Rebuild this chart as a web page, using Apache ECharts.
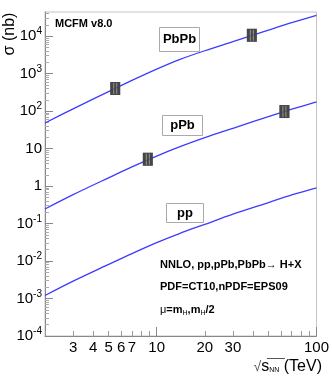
<!DOCTYPE html>
<html>
<head>
<meta charset="utf-8">
<script src="https://cdn.jsdelivr.net/npm/echarts@6/dist/echarts.min.js"></script>
<style>
  html, body { margin: 0; padding: 0; background: #fff; }
  #chart { width: 332px; height: 382px; }
</style>
</head>
<body>
<div id="chart"></div>
<script>
// sqrt(s_NN) in TeV and cross sections in nb
var energies = [2, 3, 5, 7, 10, 14, 20, 30, 50, 70, 100]
var ppXs = [1.2e-3, 2.9e-3, 8.1e-3, 0.0158, 0.031, 0.055, 0.095, 0.178, 0.363, 0.58, 0.9]
var pPbXs = [0.245, 0.59, 1.66, 3.24, 6.3, 11.2, 19.5, 34.7, 71, 112, 176]
var PbPbXs = [48, 115, 331, 660, 1320, 2400, 4070, 7080, 14450, 22900, 35900]

// data points (boxes)
var pointE = [5.5, 39.4, 8.8, 63]
var pointXs = [400, 10500, 5.2, 97]

var xLabels = [3, 4, 5, 6, 7, 10, 20, 30, 100]
var xMajor = [10, 100]
var yLabels = [1e-4, 1e-3, 1e-2, 1e-1, 1, 10, 100, 1e3, 1e4]

var font = 'Liberation Sans'
var blue = '#3c3cff'

function pairs(xs, ys) {
  return xs.map(function(x, i) { return [x, ys[i]] })
}

var xMinor = []
;[1, 10].forEach(function(d) {
  for (var k = 2; k <= 9; k++) xMinor.push(k * d)
})
var yMinor = []
for (var e = -4; e <= 4; e++) {
  for (var k = 2; k <= 9; k++) yMinor.push(k * Math.pow(10, e))
}

function yFmt(v) {
  var p = Math.round(Math.log10(v))
  if (p === 0) return '1'
  if (p === 1) return '10'
  return '{b|10}{s|' + p + '}'
}

var chart = echarts.init(document.getElementById('chart'))

var curve = { type: 'line', showSymbol: false, smooth: 0.3, lineStyle: { color: blue, width: 1.3 } }
var boxText = { fontFamily: font, fontWeight: 'bold', fontSize: 13, fill: '#000' }

chart.setOption({
  animation: false,
  grid: { left: 45, right: 10, top: 12, bottom: 46, show: true, borderColor: '#c4c4c4', borderWidth: 1 },
  xAxis: [{
    type: 'log', min: 2, max: 100,
    axisLine: { show: true, lineStyle: { color: '#888' } },
    axisTick: { inside: true, length: 9, customValues: xMajor, lineStyle: { color: '#888' } },
    axisLabel: { customValues: xLabels, fontFamily: font, fontSize: 15, color: '#000', margin: 4 },
    splitLine: { show: false }
  }, {
    type: 'log', min: 2, max: 100, position: 'bottom',
    axisLine: { show: false },
    axisTick: { inside: true, length: 5, customValues: xMinor, lineStyle: { color: '#999' } },
    axisLabel: { show: false },
    splitLine: { show: false }
  }],
  yAxis: [{
    type: 'log', min: 1e-4, max: 44000, position: 'left',
    axisLine: { show: true, lineStyle: { color: '#888' } },
    axisTick: { inside: true, length: 8, customValues: yLabels, lineStyle: { color: '#888' } },
    axisLabel: {
      customValues: yLabels, formatter: yFmt, fontFamily: font, fontSize: 15, color: '#000', margin: 3,
      rich: {
        b: { fontFamily: font, fontSize: 15, color: '#000' },
        s: { fontFamily: font, fontSize: 10, color: '#000', padding: [0, 0, 9, 0] }
      }
    },
    splitLine: { show: false }
  }, {
    type: 'log', min: 1e-4, max: 44000, position: 'left',
    axisLine: { show: false },
    axisTick: { inside: true, length: 4, customValues: yMinor, lineStyle: { color: '#aaa' } },
    axisLabel: { show: false },
    splitLine: { show: false }
  }],
  series: [
    Object.assign({ name: 'pp', data: pairs(energies, ppXs) }, curve),
    Object.assign({ name: 'pPb', data: pairs(energies, pPbXs) }, curve),
    Object.assign({ name: 'PbPb', data: pairs(energies, PbPbXs) }, curve),
    {
      name: 'points-bg', type: 'scatter', data: pairs(pointE, pointXs), z: 3,
      symbol: 'rect', symbolSize: [10, 13], itemStyle: { color: '#7a7a7a' }
    },
    {
      name: 'points', type: 'scatter', data: pairs(pointE, pointXs), z: 4,
      symbol: 'path://M0,0H10V13H0Z M3,1V12H4V1Z M6,1V12H7V1Z',
      symbolSize: [10, 13], symbolKeepAspect: false, itemStyle: { color: '#333' }
    }
  ],
  graphic: [
    { type: 'text', left: 55, top: 18, style: { text: 'MCFM v8.0', fontFamily: font, fontWeight: 'bold', fontSize: 11, fill: '#000' } },
    { type: 'rect', shape: { x: 159.5, y: 27.5, width: 40, height: 24 }, style: { fill: '#fff', stroke: '#aaa', lineWidth: 1 }, z: 10 },
    { type: 'text', x: 179.5, y: 39.5, style: Object.assign({ text: 'PbPb', align: 'center', verticalAlign: 'middle' }, boxText), z: 11 },
    { type: 'rect', shape: { x: 162.5, y: 115.5, width: 40, height: 20 }, style: { fill: '#fff', stroke: '#aaa', lineWidth: 1 }, z: 10 },
    { type: 'text', x: 182.5, y: 125.5, style: Object.assign({ text: 'pPb', align: 'center', verticalAlign: 'middle' }, boxText), z: 11 },
    { type: 'rect', shape: { x: 166.5, y: 203.5, width: 37, height: 19 }, style: { fill: '#fff', stroke: '#aaa', lineWidth: 1 }, z: 10 },
    { type: 'text', x: 185, y: 213, style: Object.assign({ text: 'pp', align: 'center', verticalAlign: 'middle' }, boxText), z: 11 },
    { type: 'text', x: 160, y: 265, style: { text: 'NNLO, pp,pPb,PbPb\u2192 H+X', fontFamily: font, fontWeight: 'bold', fontSize: 11, fill: '#000', verticalAlign: 'middle' } },
    { type: 'text', x: 160, y: 287, style: { text: 'PDF=CT10,nPDF=EPS09', fontFamily: font, fontWeight: 'bold', fontSize: 11, fill: '#000', verticalAlign: 'middle' } },
    {
      type: 'text', x: 160, y: 310,
      style: {
        text: '{m|\u03bc}{n|=m}{u|H}{n|,m}{u|H}{n|/2}', verticalAlign: 'middle',
        rich: {
          m: { fontFamily: font, fontSize: 11, fill: '#000' },
          n: { fontFamily: font, fontWeight: 'bold', fontSize: 11, fill: '#000' },
          u: { fontFamily: font, fontSize: 7, fill: '#000', padding: [6, 0, 0, 0] }
        }
      }
    },
    { type: 'text', x: 10, y: 34, rotation: Math.PI / 2, style: { text: '\u03c3 (nb)', fontFamily: font, fontSize: 16, fill: '#000', align: 'center', verticalAlign: 'middle' } },
    {
      type: 'text', x: 322, y: 367,
      style: {
        text: '{r|\u221a}{s|s}{u|NN}{t| (TeV)}', align: 'right', verticalAlign: 'middle',
        rich: {
          r: { fontFamily: font, fontSize: 14, fill: '#555' },
          s: { fontFamily: font, fontSize: 16, fill: '#000' },
          u: { fontFamily: font, fontSize: 7, fill: '#000', padding: [7, 0, 0, 0] },
          t: { fontFamily: font, fontSize: 16, fill: '#000' }
        }
      }
    },
    { type: 'line', shape: { x1: 267, y1: 358.5, x2: 285, y2: 358.5 }, style: { stroke: '#555', lineWidth: 1 } }
  ]
})
</script>
</body>
</html>
